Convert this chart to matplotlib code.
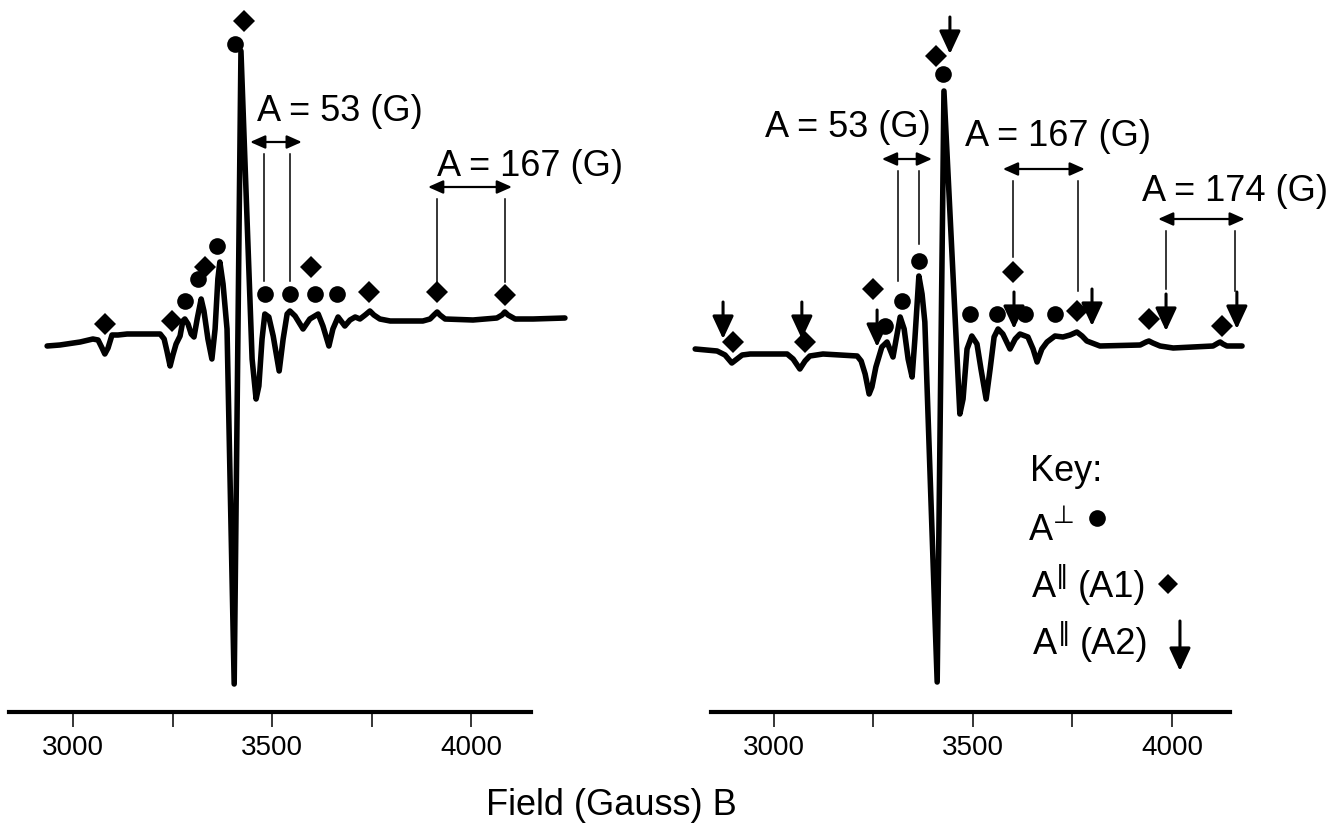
import matplotlib.pyplot as plt

plt.rcParams['font.family'] = ['Liberation Sans', 'DejaVu Sans']

# left spectrum: field (G) and signal (arb. units)
left_field = [2935, 2967, 3018, 3050, 3063, 3073, 3080, 3088, 3098, 3113,
              3136, 3219, 3229, 3236, 3244, 3251, 3259, 3269, 3276, 3281,
              3289, 3297, 3304, 3312, 3322, 3329, 3339, 3349, 3357, 3364,
              3369, 3377, 3387, 3405, 3422, 3450, 3460, 3467, 3475, 3482,
              3492, 3503, 3518, 3528, 3538, 3545, 3558, 3578, 3595, 3616,
              3628, 3643, 3653, 3666, 3683, 3696, 3709, 3721, 3734, 3746,
              3756, 3771, 3797, 3879, 3897, 3907, 3915, 3922, 3935, 4005,
              4065, 4078, 4085, 4093, 4111, 4156, 4236]
left_signal = [-7, -6, -3, 0, -1, -9, -15, -9, 4, 4,
               5, 5, 0, -12, -27, -16, -5, 3, 18, 20,
               15, 5, 2, 20, 40, 28, 0, -20, 10, 60,
               77, 55, 10, -345, 288, -20, -60, -47, 0, 25,
               22, 3, -32, 0, 25, 28, 23, 10, 20, 25,
               13, -7, 10, 22, 13, 19, 22, 20, 24, 28,
               24, 20, 18, 18, 20, 24, 27, 24, 20, 19,
               21, 24, 27, 24, 20, 20, 21]

left_perp_field = [3281, 3314, 3362, 3407, 3482, 3545, 3608, 3663]
left_perp_level = [38, 60, 93, 295, 45, 45, 45, 45]
left_par1_field = [3080, 3249, 3332, 3430, 3598, 3744, 3915, 4085]
left_par1_level = [15, 18, 72, 318, 72, 47, 47, 44]

left_split_text = ['A = 53 (G)', 'A = 167 (G)']
left_split_lines = [(3480, 3545), (3915, 4085)]

# right spectrum
right_field = [2802, 2857, 2877, 2894, 2907, 2920, 2940, 3033, 3048, 3065,
               3078, 3090, 3123, 3209, 3219, 3229, 3239, 3246, 3256, 3271,
               3284, 3291, 3299, 3307, 3317, 3327, 3337, 3347, 3354, 3364,
               3372, 3379, 3410, 3427, 3467, 3475, 3485, 3497, 3510, 3520,
               3533, 3543, 3553, 3563, 3575, 3593, 3606, 3618, 3638, 3651,
               3661, 3673, 3686, 3706, 3726, 3744, 3761, 3774, 3786, 3819,
               3920, 3935, 3942, 3952, 3970, 4003, 4103, 4116, 4121, 4128,
               4138, 4176]
right_signal = [-10, -12, -16, -24, -20, -16, -15, -15, -20, -30,
                -22, -17, -15, -17, -22, -35, -55, -48, -28, -8,
                -3, -10, -18, 0, 22, 10, -20, -38, 0, 63,
                45, 17, -343, 248, -75, -60, -10, 3, -5, -30,
                -60, -30, 2, 10, 5, -10, 0, 5, 2, -10,
                -23, -10, -3, 3, 2, 4, 7, 3, -2, -7,
                -6, -3, -2, -4, -7, -9, -7, -4, -3, -5,
                -7, -7]

right_perp_field = [3279, 3322, 3364, 3425, 3492, 3560, 3631, 3706]
right_perp_level = [13, 38, 78, 265, 25, 25, 25, 25]
right_par1_field = [2897, 3078, 3249, 3407, 3601, 3761, 3942, 4126]
right_par1_level = [-3, -3, 50, 283, 67, 28, 20, 13]
right_par2_field = [2872, 3070, 3259, 3442, 3603, 3799, 3985, 4163]
right_par2_level = [0, 0, -8, 285, 10, 13, 8, 10]

right_split_text = ['A = 53 (G)', 'A = 167 (G)', 'A = 174 (G)']
right_split_lines = [(3312, 3364), (3600, 3764), (3985, 4158)]

major_ticks = [3000, 3500, 4000]
minor_ticks = [3250, 3750]

# layout (pixels -> data)
W, H = 1336, 829
PX_PER_G = 0.398
TOP = 340          # signal value at top edge of figure

fig = plt.figure(figsize=(W / 100, H / 100), dpi=100)


def panel(x0, x1, px3000, axis_lo, axis_hi):
    ax = fig.add_axes([x0 / W, 0, (x1 - x0) / W, 1])
    ax.set_xlim(3000 + (x0 - px3000) / PX_PER_G, 3000 + (x1 - px3000) / PX_PER_G)
    ax.set_ylim(TOP - H, TOP)
    ax.patch.set_visible(False)
    for s in ['top', 'left', 'right']:
        ax.spines[s].set_visible(False)
    ax.spines['bottom'].set_position(('data', TOP - 713))
    ax.spines['bottom'].set_bounds(axis_lo, axis_hi)
    ax.spines['bottom'].set_linewidth(3)
    ax.set_yticks([])
    ax.set_xticks(major_ticks)
    ax.set_xticks(minor_ticks, minor=True)
    ax.tick_params(axis='x', which='both', direction='out', length=11, width=1.1,
                   labelsize=20, pad=5)
    ax.tick_params(axis='x', which='minor', labelbottom=False)
    return ax


def down_arrow(ax, x, tip, length=37):
    ax.annotate('', xy=(x, tip), xytext=(x, tip + length), annotation_clip=False,
                arrowprops=dict(arrowstyle='-|>,head_length=1.4,head_width=0.65',
                                lw=2.2, color='black', shrinkA=0, shrinkB=0,
                                mutation_scale=10))


def split(ax, text, lines, arrow_ends, arrow_y, bottoms, text_x, text_y):
    ax.annotate('', xy=(arrow_ends[0], arrow_y), xytext=(arrow_ends[1], arrow_y),
                annotation_clip=False,
                arrowprops=dict(arrowstyle='<|-|>,head_length=0.9,head_width=0.4',
                                lw=1.6, color='black', shrinkA=0, shrinkB=0,
                                mutation_scale=10))
    for x, b in zip(lines, bottoms):
        ax.plot([x, x], [arrow_y - 12, b], color='black', lw=1.1)
    ax.text(text_x, text_y, text, ha='center', va='baseline', fontsize=26)


def spectrum(ax, f, s):
    ax.plot(f, s, color='black', lw=4, solid_joinstyle='round',
            solid_capstyle='round', clip_on=False)


# left panel
ax1 = panel(0, 668, 73, 2839, 4151)
spectrum(ax1, left_field, left_signal)
ax1.plot(left_perp_field, left_perp_level, 'o', color='black', ms=12, mew=0)
ax1.plot(left_par1_field, left_par1_level, 'D', color='black', ms=11, mew=0)
split(ax1, left_split_text[0], left_split_lines[0], (3445, 3575), 197, (58, 58), 3671, 219)
split(ax1, left_split_text[1], left_split_lines[1], (3892, 4103), 152, (57, 57), 4148, 164)

# right panel
ax2 = panel(668, 1336, 774, 2842, 4146)
spectrum(ax2, right_field, right_signal)
ax2.plot(right_perp_field, right_perp_level, 'o', color='black', ms=12, mew=0)
ax2.plot(right_par1_field, right_par1_level, 'D', color='black', ms=11, mew=0)
for x, t in zip(right_par2_field, right_par2_level):
    down_arrow(ax2, x, t)
split(ax2, right_split_text[0], right_split_lines[0], (3271, 3397), 180, (58, 95), 3186, 203)
split(ax2, right_split_text[1], right_split_lines[1], (3575, 3781), 170, (82, 48), 3714, 194)
split(ax2, right_split_text[2], right_split_lines[2], (3965, 4183), 120, (50, 48), 4158, 139)

# key
ax2.text(3643, -141, 'Key:', fontsize=26, va='baseline')
ax2.text(3641, -200, 'A', fontsize=26, va='baseline')
ax2.text(3701, -183, '\u22a5', fontsize=18, va='baseline', family='DejaVu Sans')
ax2.plot([3812], [-179], 'o', color='black', ms=12, mew=0)
ax2.text(3648, -257, 'A', fontsize=26, va='baseline')
ax2.text(3709, -243, '\u2016', fontsize=18, va='baseline', family='DejaVu Sans')
ax2.text(3764, -257, '(A1)', fontsize=26, va='baseline')
ax2.plot([3990], [-245], 'D', color='black', ms=10, mew=0)
ax2.text(3651, -314, 'A', fontsize=26, va='baseline')
ax2.text(3714, -300, '\u2016', fontsize=18, va='baseline', family='DejaVu Sans')
ax2.text(3767, -314, '(A2)', fontsize=26, va='baseline')
down_arrow(ax2, 4020, -332, length=50)

fig.text(611 / W, 1 - 815 / H, 'Field (Gauss) B', ha='center', va='baseline', fontsize=26)

fig.savefig('out.png', dpi=100)
